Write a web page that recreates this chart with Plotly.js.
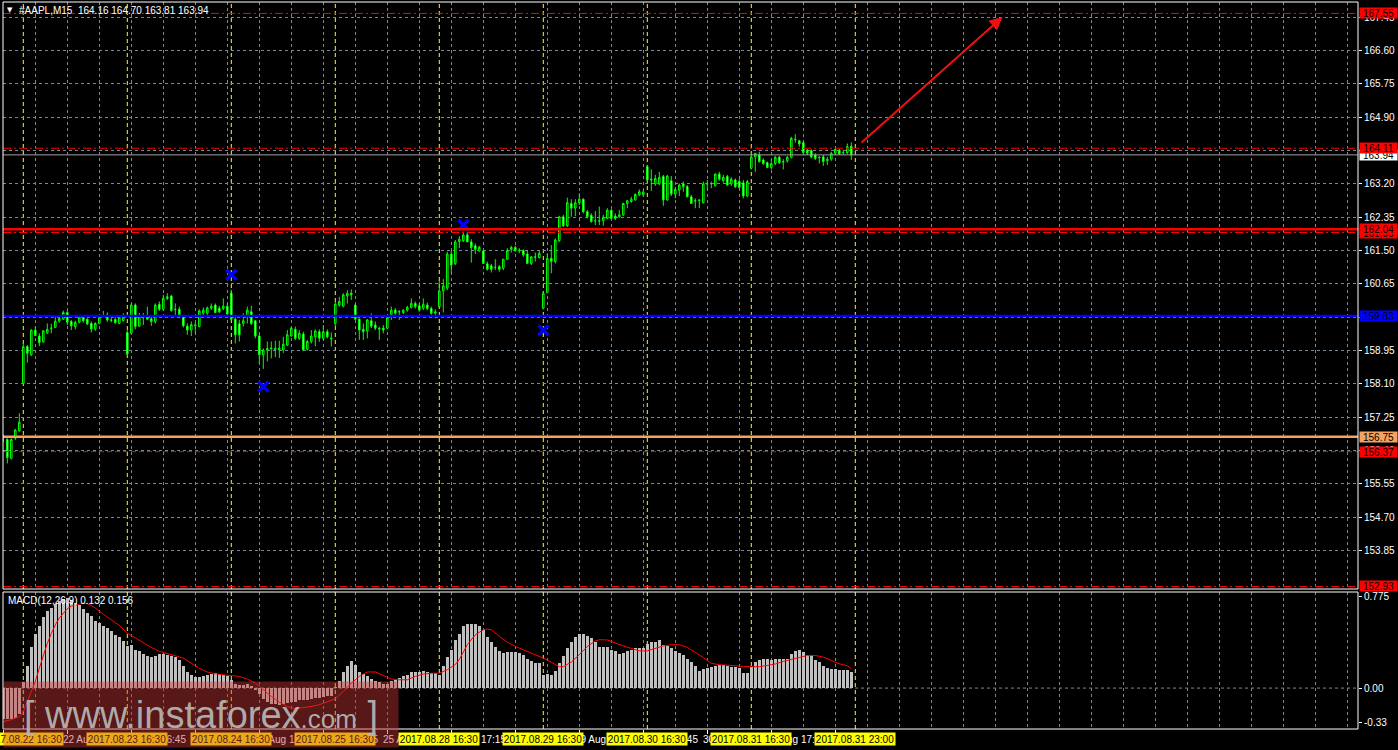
<!DOCTYPE html>
<html><head><meta charset="utf-8">
<script src="https://cdn.plot.ly/plotly-3.0.1.min.js"></script>
<style>html,body{margin:0;padding:0;background:#000;overflow:hidden}#chart{width:1398px;height:750px}</style>
</head><body><div id="chart"></div>
<script>
// ---------------- DATA ----------------
const symbolName = '#AAPL,M15';
const titleOHLC = [164.16, 164.70, 163.81, 163.94];
const firstBar = -5; // bar index of first candle (bar 0 = 2017.08.22 16:30)

const open = [
156.74,156.68,156.20,156.71,156.90,
158.11,159.05,158.84,159.47,159.32,159.17,159.40,159.51,159.54,159.70,
159.75,159.92,159.69,159.56,159.67,159.80,159.75,159.64,159.50,159.64,
159.82,159.86,159.73,159.74,159.64,159.71,159.41,159.39,160.11,159.57,
159.80,159.81,159.76,159.69,160.13,160.00,160.32,160.34,159.99,160.00,
159.84,159.57,159.47,159.58,159.56,159.90,159.90,160.03,160.11,160.03,
160.02,160.08,160.41,159.75,159.63,159.64,159.81,159.94,159.71,159.32,
158.84,158.96,159.00,159.00,158.97,158.96,159.09,159.32,159.49,159.26,
159.37,158.98,159.18,159.30,159.43,159.26,159.43,159.27,159.64,160.11,
160.08,160.34,160.41,160.11,159.75,159.49,159.45,159.71,159.60,159.52,
159.52,159.52,159.86,159.98,159.94,159.92,159.98,160.05,160.15,160.09,
160.03,160.11,160.02,159.90,160.07,160.47,160.54,161.41,161.17,161.73,
161.75,161.90,161.72,161.62,161.49,161.49,161.16,161.11,161.07,161.09,
161.05,161.28,161.53,161.58,161.51,161.50,161.41,161.17,161.34,161.32,
160.03,160.43,161.30,161.22,161.75,162.36,162.13,162.70,162.58,162.72,
162.81,162.49,162.40,162.26,162.25,162.26,162.32,162.53,162.38,162.36,
162.41,162.70,162.75,162.79,162.92,162.92,163.64,163.32,163.20,163.20,
163.39,162.79,163.28,162.94,163.04,163.20,163.13,162.87,162.76,162.79,
162.72,163.20,163.20,163.16,163.45,163.28,163.39,163.20,163.30,163.26,
163.23,162.89,163.60,163.89,163.94,163.81,163.74,163.62,163.72,163.88,
163.77,163.79,163.88,164.34,164.30,164.25,164.06,164.05,163.94,163.88,
163.89,163.79,163.83,163.98,164.06,164.00,164.00,164.16];
const high = [
156.80,156.71,156.71,156.95,157.35,
159.15,159.09,159.49,159.57,159.39,159.47,159.64,159.63,159.81,159.83,
159.97,159.97,159.73,159.71,159.83,159.85,159.77,159.69,159.67,159.83,
159.96,159.92,159.80,159.80,159.84,159.90,159.47,160.15,160.15,159.91,
159.91,160.07,159.81,160.15,160.20,160.37,160.41,160.37,160.15,160.07,
159.86,159.64,159.69,159.66,160.00,160.05,160.07,160.15,160.15,160.09,
160.28,160.15,160.50,159.80,159.73,159.90,160.07,160.09,159.73,159.37,
159.00,159.18,159.18,159.20,159.20,159.30,159.47,159.56,159.56,159.47,
159.43,159.22,159.47,159.49,159.49,159.60,159.49,159.41,160.20,160.32,
160.41,160.49,160.51,160.13,159.77,159.64,159.75,159.90,159.69,159.56,
159.60,159.81,160.07,160.03,159.98,160.00,160.09,160.28,160.20,160.15,
160.28,160.17,160.07,160.00,160.75,160.77,161.47,161.51,161.77,161.87,
161.98,161.98,161.79,161.68,161.62,161.51,161.22,161.16,161.28,161.13,
161.28,161.56,161.62,161.62,161.56,161.53,161.51,161.36,161.45,161.51,
160.45,161.43,161.64,161.81,162.38,162.41,162.85,162.81,162.81,162.96,
162.83,162.53,162.45,162.51,162.62,162.41,162.58,162.55,162.45,162.53,
162.72,162.79,162.87,162.96,163.06,163.04,163.68,163.57,163.43,163.51,
163.43,163.43,163.40,163.13,163.21,163.26,163.17,162.92,162.83,162.81,
163.26,163.30,163.26,163.47,163.51,163.43,163.43,163.37,163.34,163.32,
163.30,163.30,164.02,163.98,164.02,163.85,163.77,163.83,163.91,163.91,
163.83,163.91,164.40,164.47,164.32,164.28,164.09,164.08,163.98,163.91,
163.94,163.89,164.02,164.11,164.09,164.05,164.23,164.26];
const low = [
156.62,156.07,156.17,156.67,156.88,
158.07,158.64,158.81,159.33,159.06,159.15,159.37,159.39,159.52,159.66,
159.73,159.60,159.47,159.49,159.64,159.66,159.60,159.41,159.45,159.62,
159.80,159.68,159.67,159.63,159.62,159.69,158.81,159.37,159.49,159.56,
159.60,159.73,159.58,159.64,159.96,159.97,160.24,159.94,159.81,159.77,
159.54,159.35,159.32,159.40,159.54,159.85,159.85,159.98,159.90,159.90,
159.98,159.86,159.73,159.13,159.18,159.56,159.64,159.60,159.26,158.62,
158.48,158.67,158.75,158.78,158.76,158.89,159.06,159.30,159.22,159.22,
158.95,158.95,159.13,159.06,159.17,159.22,159.26,159.05,159.56,160.07,
160.05,160.15,160.24,159.73,159.22,159.22,159.26,159.52,159.47,159.22,
159.39,159.49,159.73,159.86,159.73,159.88,159.94,160.02,160.02,159.94,
159.98,159.98,159.86,159.77,160.03,159.92,160.49,160.92,161.13,161.56,
161.72,161.73,161.19,161.41,161.47,161.16,160.99,160.94,161.00,160.96,
161.00,161.26,161.45,161.47,161.43,161.34,161.16,161.13,161.22,161.30,
160.00,160.41,160.92,161.17,161.72,162.10,162.10,162.36,162.38,162.66,
162.45,162.32,162.21,162.15,162.15,162.13,162.30,162.30,162.28,162.34,
162.38,162.58,162.72,162.77,162.89,162.88,163.26,163.02,163.15,163.17,
162.64,162.77,162.89,162.83,162.89,163.00,162.86,162.69,162.58,162.58,
162.70,163.04,163.09,163.13,163.28,163.23,163.15,163.15,163.09,163.09,
162.83,162.86,163.57,163.51,163.74,163.68,163.60,163.57,163.68,163.71,
163.57,163.74,163.85,164.25,164.15,163.98,163.94,163.85,163.81,163.72,
163.66,163.68,163.79,163.94,163.94,163.94,163.96,163.81];
const close = [
156.75,156.22,156.68,156.92,157.12,
159.05,158.88,159.47,159.33,159.15,159.45,159.49,159.52,159.70,159.77,
159.92,159.67,159.58,159.67,159.80,159.71,159.63,159.50,159.64,159.80,
159.84,159.73,159.72,159.66,159.80,159.80,158.86,160.11,159.56,159.81,
159.79,159.75,159.69,160.11,160.00,160.28,160.28,159.97,160.00,159.86,
159.58,159.47,159.61,159.60,159.96,159.98,160.04,160.08,159.92,159.94,
160.08,159.88,159.75,159.35,159.35,159.71,159.98,159.64,159.32,158.84,
158.96,159.00,159.01,158.98,159.01,159.11,159.35,159.52,159.26,159.39,
158.96,159.18,159.32,159.45,159.26,159.43,159.30,159.25,160.13,160.20,
160.37,160.41,160.37,159.75,159.47,159.43,159.73,159.57,159.52,159.50,
159.47,159.79,159.98,159.90,159.94,159.98,160.05,160.15,160.07,159.98,
160.13,160.02,159.90,159.94,160.47,160.60,161.41,161.13,161.72,161.79,
161.90,161.72,161.58,161.53,161.58,161.17,161.02,161.02,161.07,161.02,
161.28,161.50,161.58,161.50,161.50,161.39,161.17,161.34,161.33,161.43,
160.41,161.30,161.22,161.77,162.36,162.13,162.72,162.58,162.72,162.81,
162.49,162.36,162.24,162.26,162.26,162.35,162.53,162.32,162.32,162.41,
162.70,162.77,162.81,162.93,163.00,162.99,163.30,163.30,163.34,163.37,
162.79,163.40,162.94,163.06,163.17,163.13,162.87,162.70,162.77,162.78,
163.20,163.20,163.21,163.45,163.32,163.37,163.17,163.32,163.13,163.11,
162.89,163.26,163.89,163.98,163.77,163.72,163.62,163.72,163.88,163.74,
163.76,163.88,164.36,164.33,164.22,164.00,163.98,163.89,163.85,163.87,
163.77,163.83,163.98,164.08,163.96,164.00,164.15,163.94];

// MACD(12,26,9) histogram (main line) per bar
const macdHist = [
-0.25,-0.25,-0.25,-0.24,-0.21,
0.05,0.175,0.33,0.44,0.50,0.57,0.62,0.65,0.68,0.70,
0.72,0.73,0.71,0.685,0.67,0.64,0.605,0.58,0.545,0.525,
0.50,0.485,0.457,0.43,0.41,0.376,0.336,0.35,0.31,0.296,
0.277,0.26,0.247,0.26,0.277,0.277,0.27,0.26,0.247,0.228,
0.175,0.13,0.107,0.089,0.089,0.094,0.107,0.116,0.12,0.116,
0.107,0.094,0.067,0.03,0.027,0.022,0.03,0.02,-0.013,-0.05,
-0.09,-0.11,-0.13,-0.13,-0.14,-0.13,-0.12,-0.11,-0.11,-0.10,
-0.10,-0.10,-0.09,-0.08,-0.08,-0.07,-0.06,-0.06,0.01,0.06,
0.13,0.18,0.22,0.19,0.13,0.11,0.094,0.073,0.054,0.046,
0.035,0.035,0.054,0.067,0.08,0.10,0.107,0.13,0.13,0.13,
0.134,0.13,0.12,0.12,0.107,0.175,0.25,0.31,0.39,0.44,
0.50,0.52,0.52,0.52,0.50,0.465,0.41,0.37,0.33,0.30,
0.28,0.29,0.29,0.29,0.28,0.27,0.237,0.22,0.20,0.20,
0.107,0.113,0.107,0.14,0.20,0.255,0.32,0.37,0.41,0.44,
0.44,0.42,0.40,0.37,0.33,0.33,0.33,0.31,0.296,0.277,
0.282,0.296,0.31,0.32,0.325,0.325,0.355,0.37,0.37,0.39,
0.35,0.336,0.32,0.30,0.28,0.27,0.237,0.21,0.175,0.14,
0.156,0.16,0.167,0.18,0.19,0.188,0.18,0.167,0.167,0.16,
0.12,0.12,0.167,0.21,0.228,0.237,0.237,0.228,0.237,0.237,
0.237,0.237,0.274,0.296,0.31,0.288,0.263,0.263,0.228,0.21,
0.18,0.16,0.156,0.156,0.148,0.148,0.148,0.132];

// signal line, read at these bars
const sigBars = [
-5,-3,-1,0,1,2,3,4,5,6,
7,8,9,10,11,12,13,14,15,16,
17,18,19,20,22,24,26,28,30,32,
34,36,38,40,42,44,46,48,50,52,
54,56,58,60,62,64,66,68,70,72,
74,76,78,80,82,84,86,88,90,92,
94,96,98,100,102,104,106,108,109,111,
113,115,116,117,119,121,123,125,127,129,
131,133,134,135,137,139,141,143,144,146,
148,150,152,154,156,158,160,162,164,166,
168,170,172,174,176,178,180,182,184,186,
188,190,192,194,196,198,200,202,204,206,
207];
const sigVals = [
-0.27,-0.255,-0.23,-0.19,-0.11,-0.03,0.054,0.16,0.27,0.36,
0.44,0.51,0.565,0.605,0.64,0.66,0.67,0.68,0.685,0.68,
0.667,0.645,0.618,0.597,0.55,0.505,0.443,0.403,0.363,0.328,
0.296,0.277,0.26,0.242,0.20,0.16,0.13,0.115,0.107,0.102,
0.094,0.073,0.04,-0.013,-0.067,-0.113,-0.148,-0.167,-0.16,-0.148,
-0.134,-0.113,-0.086,-0.027,0.04,0.094,0.13,0.13,0.102,0.073,
0.067,0.067,0.094,0.113,0.12,0.12,0.148,0.19,0.23,0.35,
0.43,0.47,0.476,0.47,0.417,0.37,0.336,0.31,0.282,0.26,
0.228,0.19,0.172,0.172,0.21,0.27,0.336,0.38,0.39,0.388,
0.363,0.34,0.32,0.30,0.30,0.317,0.34,0.35,0.35,0.328,
0.29,0.247,0.20,0.188,0.185,0.183,0.175,0.172,0.172,0.183,
0.194,0.215,0.228,0.247,0.263,0.263,0.25,0.223,0.196,0.18,
0.156];
const macdLabelVals = [0.132, 0.156];

// fractal / zigzag crosses
const crossBars = [52, 60, 110, 130];
const crossPrices = [160.88, 158.03, 162.15, 159.47];

// forecast arrow (from -> to)
const arrowFrom = [209.2, 164.22];
const arrowTo = [244.8, 167.46];

// horizontal price levels (in drawing order: later labels cover earlier ones)
const levelPrices = [167.55, 163.94, 164.11, 161.96, 162.04, 159.83, 156.75, 156.37, 152.93];

// price axis ticks
const priceTicks = [153.85,154.70,155.55,156.40,157.25,158.10,158.95,159.80,160.65,161.50,162.35,163.20,164.05,164.90,165.75,166.60,167.45];
const macdTickLabels = ['0.775','0.00','-0.33'];

// time axis
const dayBars = [0, 26, 52, 78, 104, 130, 156, 182, 208];
const dayLabels = ['2017.08.22 16:30','2017.08.23 16:30','2017.08.24 16:30','2017.08.25 16:30','2017.08.28 16:30','2017.08.29 16:30','2017.08.30 16:30','2017.08.31 16:30','2017.08.31 23:00'];
const timeBars = [-5, 11, 27, 43, 59, 75, 91, 107, 123, 139, 155, 171, 187, 203];
const timeLabels = ['21 Aug 21:45','22 Aug 19:15','23 Aug 16:45','23 Aug 20:45','24 Aug 18:15','24 Aug 22:15','25 Aug 19:45','28 Aug 17:15','28 Aug 21:15','29 Aug 18:45','29 Aug 22:45','30 Aug 20:15','31 Aug 17:45','31 Aug 21:45'];

// ---------------- STYLE / LAYOUT ----------------
const bars = open.map((_, k) => firstBar + k);
const PL = 3, PR = 1358, PT = 2, PB = 729;
const W = PR - PL, H = PB - PT;
const px = x => (x - PL) / W;
const py = y => (PB - y) / H;
const BAR0PX = 23.3, BARW = 4;
const xRange = [(PL - BAR0PX) / BARW, (PR - BAR0PX) / BARW];
const FONT = 'Liberation Sans, Arial, sans-serif';
const GRID = '#778899';
const DASHDOT = '8px,3px,2px,3px';

const levelStyles = [
  {color:'#ff0000', width:1, dash:DASHDOT, bg:'#ff0000'},
  {color:'#a0a0a0', width:1, dash:'solid', bg:'#ffffff'},
  {color:'#ff0000', width:1, dash:DASHDOT, bg:'#ff0000'},
  {color:'#ff0000', width:1, dash:DASHDOT, bg:'#ff0000'},
  {color:'#ff0000', width:2.5, dash:'solid', bg:'#ff0000'},
  {color:'#0000ff', width:2.5, dash:'solid', bg:'#0000ff'},
  {color:'#f4a460', width:2.5, dash:'solid', bg:'#f4a460'},
  {color:'#ff0000', width:1, dash:'5px,3px', bg:'#ff0000'},
  {color:'#ff0000', width:1, dash:DASHDOT, bg:'#ff0000'}
];

const traces = [
  {type:'candlestick', x:bars, open:open, high:high, low:low, close:close,
   xaxis:'x', yaxis:'y', whiskerwidth:0, hoverinfo:'skip',
   increasing:{line:{color:'#00ff00', width:1}, fillcolor:'#000000'},
   decreasing:{line:{color:'#00ff00', width:1}, fillcolor:'#ffffff'}},
  {type:'scatter', mode:'markers', x:crossBars, y:crossPrices, xaxis:'x', yaxis:'y', hoverinfo:'skip',
   marker:{symbol:'x-thin', size:10, color:'#0000ff', line:{width:3.5, color:'#0000ff'}}},
  {type:'bar', x:bars, y:macdHist, xaxis:'x2', yaxis:'y2', width:0.75, hoverinfo:'skip',
   marker:{color:'#c0c0c0', line:{width:0}}},
  {type:'scatter', mode:'lines', x:sigBars, y:sigVals, xaxis:'x2', yaxis:'y2', hoverinfo:'skip',
   line:{color:'#ff0000', width:1}}
];

const shapes = [];
shapes.push({type:'line', xref:'paper', x0:0, x1:1, yref:'y2', y0:0, y1:0, layer:'below',
  line:{color:GRID, width:1, dash:'3px,3px'}});
dayBars.forEach(b => shapes.push({type:'line', xref:'x', x0:b, x1:b, yref:'paper', y0:0, y1:1, layer:'below',
  line:{color:'#ffff00', width:1, dash:'4px,3px'}}));
levelPrices.forEach((p, k) => shapes.push({type:'line', xref:'paper', x0:0, x1:1, yref:'y', y0:p, y1:p, layer:'above',
  line:{color:levelStyles[k].color, width:levelStyles[k].width, dash:levelStyles[k].dash}}));
shapes.push({type:'rect', xref:'paper', yref:'paper', x0:0, x1:1, y0:py(589), y1:1, layer:'above', line:{color:'#ffffff', width:1}});
shapes.push({type:'rect', xref:'paper', yref:'paper', x0:0, x1:1, y0:0, y1:py(592), layer:'above', line:{color:'#ffffff', width:1}});

const annotations = [];
annotations.push({xref:'paper', yref:'paper', x:px(9.5), y:py(10), xanchor:'center', yanchor:'middle', showarrow:false,
  text:'\u25BC', font:{family:'DejaVu Sans', size:7, color:'#ffffff'}});
annotations.push({xref:'paper', yref:'paper', x:px(17), y:py(10.5), xanchor:'left', yanchor:'middle', showarrow:false,
  text:symbolName + '\u00a0\u00a0' + titleOHLC.map(v => v.toFixed(2)).join(' '), font:{family:FONT, size:10, color:'#ffffff'}});
annotations.push({xref:'paper', yref:'paper', x:px(6), y:py(600), xanchor:'left', yanchor:'middle', showarrow:false,
  text:'MACD(12,26,9) ' + macdLabelVals.map(v => v.toFixed(3)).join(' '), font:{family:FONT, size:10, color:'#ffffff'}});
levelPrices.forEach((p, k) => annotations.push({xref:'paper', yref:'y', x:1, y:p, xanchor:'left', yanchor:'middle', xshift:1,
  showarrow:false, text:p.toFixed(2), bgcolor:levelStyles[k].bg, width:37, height:10, borderpad:0,
  font:{family:FONT, size:10, color:'#000000'}}));
annotations.push({xref:'x', yref:'y', x:arrowTo[0], y:arrowTo[1], axref:'x', ayref:'y', ax:arrowFrom[0], ay:arrowFrom[1],
  showarrow:true, arrowhead:2, arrowsize:1.3, arrowwidth:2, arrowcolor:'#ee1111', text:'', standoff:0});
timeBars.forEach((b, k) => annotations.push({xref:'x', yref:'paper', x:b, y:py(739), xanchor:'left', yanchor:'middle', xshift:-6,
  showarrow:false, text:timeLabels[k], font:{family:FONT, size:10, color:'#ffffff'}}));
dayBars.forEach((b, k) => annotations.push({xref:'x', yref:'paper', x:b, y:py(738.5), xanchor:'center', yanchor:'middle',
  showarrow:false, text:dayLabels[k], bgcolor:'#ffff00', width:80, height:12, borderpad:0,
  font:{family:FONT, size:10, color:'#000000'}}));
annotations.push({xref:'paper', yref:'paper', x:px(3), y:py(681), xanchor:'left', yanchor:'top', showarrow:false,
  width:394, height:65, borderpad:0, bgcolor:'rgba(205,55,55,0.43)', align:'center', valign:'middle',
  text:'[ www.instaforex<span style="font-size:26px">.com</span> ]', font:{family:FONT, size:38, color:'rgba(180,180,180,0.95)'}});

const axisCommon = {showline:false, zeroline:false, fixedrange:true, automargin:false};
const layout = {
  width:1398, height:750, paper_bgcolor:'#000000', plot_bgcolor:'#000000',
  margin:{l:PL, r:1398 - PR, t:PT, b:750 - PB}, showlegend:false, hovermode:false,
  font:{family:FONT, size:10, color:'#ffffff'}, boxgap:0.45, bargap:0,
  xaxis:Object.assign({}, axisCommon, {domain:[0,1], anchor:'y', range:xRange, tickmode:'linear', tick0:3, dtick:8,
    showticklabels:false, ticks:'', showgrid:true, gridcolor:GRID, griddash:'3px,3px', gridwidth:1,
    rangeslider:{visible:false}}),
  xaxis2:Object.assign({}, axisCommon, {domain:[0,1], anchor:'y2', matches:'x', tickmode:'array', tickvals:timeBars,
    showticklabels:false, ticks:'outside', ticklen:4, tickcolor:'#ffffff', tickwidth:1,
    showgrid:true, gridcolor:GRID, griddash:'3px,3px', gridwidth:1,
    minor:{tickmode:'linear', tick0:3, dtick:8, showgrid:true, gridcolor:GRID, griddash:'3px,3px', gridwidth:1, ticks:''}}),
  yaxis:Object.assign({}, axisCommon, {domain:[py(589), 1], anchor:'x', side:'right',
    range:[167.45 - (589 - 17.3) / 39.2, 167.45 + (17.3 - 2) / 39.2],
    tickmode:'array', tickvals:priceTicks, ticktext:priceTicks.map(v => v.toFixed(2)),
    ticks:'outside', ticklen:3, tickcolor:'#ffffff', tickfont:{family:FONT, size:10, color:'#ffffff'},
    showgrid:true, gridcolor:GRID, griddash:'3px,3px', gridwidth:1}),
  yaxis2:Object.assign({}, axisCommon, {domain:[0, py(592)], anchor:'x2', side:'right', range:[-0.33, 0.775],
    tickmode:'array', tickvals:[0.74, 0, -0.28], ticktext:macdTickLabels,
    ticks:'outside', ticklen:3, tickcolor:'#ffffff', tickfont:{family:FONT, size:10, color:'#ffffff'}, showgrid:false}),
  shapes:shapes, annotations:annotations
};

Plotly.newPlot('chart', traces, layout, {staticPlot:true, displayModeBar:false});
</script></body></html>
